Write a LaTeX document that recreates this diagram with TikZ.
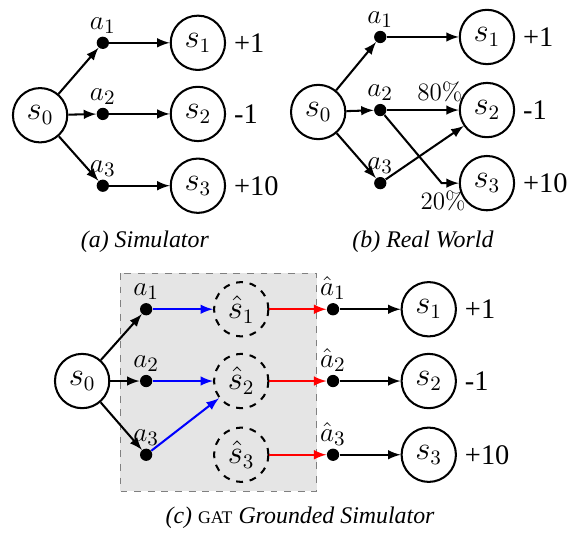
\documentclass[tikz,border=0pt]{standalone}
\usepackage{amsmath}
\usepackage{fontspec}
\newfontfamily\timesfont{Liberation Serif}
\usetikzlibrary{calc,positioning}

\tikzset{
  state/.style={circle, draw, line width=0.9pt, minimum size=0.84cm, inner sep=0pt, font=\fontsize{13.5}{15}\selectfont},
  hstate/.style={state, dashed},
  act/.style={circle, fill, inner sep=0pt, minimum size=5.4pt, label distance=3pt},
  rew/.style={font=\timesfont\fontsize{12.5}{14}\selectfont, inner sep=0.3333em},
  prob/.style={font=\fontsize{11}{13}\selectfont},
  trans/.style={-latex, line width=0.9pt},
  subcap/.style={font=\timesfont\itshape\fontsize{10.5}{12}\selectfont},
  gatbox/.style={draw=gray, dashed, fill=gray!20},
  every label/.style={font=\fontsize{13}{15}\selectfont, inner sep=1pt}
}

\begin{document}
\begin{tikzpicture}
  \useasboundingbox (0,0) rectangle (9.046,8.242);

  \node [state] at (0.62,6.46) (s0) {$s_0$};
  \node [act, label=above:$a_1$] at (1.59,7.58) (a1) {};
  \node [act, label=above:$a_2$] at (1.59,6.48) (a2) {};
  \node [act, label=above:$a_3$] at (1.59,5.37) (a3) {};
  \node [state, label={[rew]right:+1}] at (3.06,7.58) (s1) {$s_1$};
  \node [state, label={[rew]right:-1}] at (3.06,6.48) (s2) {$s_2$};
  \node [state, label={[rew]right:+10}] at (3.06,5.37) (s3) {$s_3$};
  \node [subcap] at (2.24,4.50) (capa) {(a) Simulator};

  \draw [trans] (s0) -- (a1);
  \draw [trans] (s0) -- (a2);
  \draw [trans] (s0) -- (a3);
  \draw [trans] (a1) -- (s1);
  \draw [trans] (a2) -- (s2);
  \draw [trans] (a3) -- (s3);

  \node [state] at (4.92,6.51) (r0) {$s_0$};
  \node [act, label=above:$a_1$] at (5.88,7.67) (ra1) {};
  \node [act, label=above:$a_2$] at (5.88,6.54) (ra2) {};
  \node [act, label=above:$a_3$] at (5.88,5.41) (ra3) {};
  \node [state, label={[rew]right:+1}] at (7.53,7.67) (rs1) {$s_1$};
  \node [state, label={[rew]right:-1}] at (7.53,6.54) (rs2) {$s_2$};
  \node [state, label={[rew]right:+10}] at (7.53,5.41) (rs3) {$s_3$};
  \coordinate (rturn) at (6.83,5.41);
  \node [prob] at (6.80,6.82) (p80) {80\%};
  \node [prob] at (6.85,5.13) (p20) {20\%};
  \node [subcap] at (6.54,4.50) (capb) {(b) Real World};

  \draw [trans] (r0) -- (ra1);
  \draw [trans] (r0) -- (ra2);
  \draw [trans] (r0) -- (ra3);
  \draw [trans] (ra1) -- (rs1);
  \draw [trans] (ra2) -- (rs2);
  \draw [trans] (ra2) -- (rturn) -- (rs3);
  \draw [trans] (ra3) -- (rs2);

  \draw [gatbox] (1.86,4.02) rectangle (4.90,0.65);
  \node [state] at (1.27,2.35) (g0) {$s_0$};
  \node [act, label=above:$a_1$] at (2.26,3.46) (ga1) {};
  \node [act, label=above:$a_2$] at (2.26,2.35) (ga2) {};
  \node [act, label=above:$a_3$] at (2.26,1.21) (ga3) {};
  \node [hstate] at (3.73,3.46) (gh1) {$\hat{s}_1$};
  \node [hstate] at (3.73,2.35) (gh2) {$\hat{s}_2$};
  \node [hstate] at (3.73,1.21) (gh3) {$\hat{s}_3$};
  \node [act, label=above:$\hat{a}_1$] at (5.15,3.46) (gb1) {};
  \node [act, label=above:$\hat{a}_2$] at (5.15,2.35) (gb2) {};
  \node [act, label=above:$\hat{a}_3$] at (5.15,1.21) (gb3) {};
  \node [state, label={[rew]right:+1}] at (6.63,3.46) (gs1) {$s_1$};
  \node [state, label={[rew]right:-1}] at (6.63,2.35) (gs2) {$s_2$};
  \node [state, label={[rew]right:+10}] at (6.63,1.21) (gs3) {$s_3$};
  \node [subcap] at (4.64,0.23) (capc) {(c) {\upshape\fontsize{7.8}{9}\selectfont GAT} Grounded Simulator};

  \draw [trans] (g0) -- (ga1);
  \draw [trans] (g0) -- (ga2);
  \draw [trans] (g0) -- (ga3);
  \draw [trans, blue] (ga1) -- (gh1);
  \draw [trans, blue] (ga2) -- (gh2);
  \draw [trans, blue] (ga3) -- (gh2);
  \draw [trans, red] (gh1) -- (gb1);
  \draw [trans, red] (gh2) -- (gb2);
  \draw [trans, red] (gh3) -- (gb3);
  \draw [trans] (gb1) -- (gs1);
  \draw [trans] (gb2) -- (gs2);
  \draw [trans] (gb3) -- (gs3);
\end{tikzpicture}
\end{document}
